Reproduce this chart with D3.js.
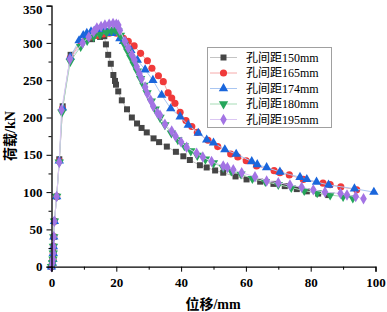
<!DOCTYPE html>
<html><head><meta charset="utf-8">
<script src="https://cdn.jsdelivr.net/npm/d3@7/dist/d3.min.js"></script>
<style>body{margin:0;background:#fff}svg{display:block}</style>
</head><body><svg id="c" width="387" height="312"></svg>
<script>
const seriesNames = ["孔间距150mm","孔间距165mm","孔间距174mm","孔间距180mm","孔间距195mm"];
const xTicks = [0,20,40,60,80,100];
const yTicks = [0,50,100,150,200,250,300,350];

const x150 = [0,0.3,0.45,0.55,0.6,0.7,0.9,1.6,2.4,3.45,5.9,9.1,12.5,15,16.3,16.8,17.5,18.3,19.1,19.6,19.9,20.6,21.7,23.3,24.8,26.4,27.8,29.4,31.5,33.2,35.6,38.4,40.7,42.7,45.8,47.9,50.5,53,56.8,60.2,64.4,68.5,72,75.7,78.8,82.3,85.4];
const y150 = [0,5,10,18,27,40,61,94,144,215,284,301,305,308,309,298,284,272,257,249,244,235,223,211,200,192,186,180,172,167,161,154,148,143,136,133,129,126,121,117,114,111,108,104,101,98,96];

const x165 = [0,0.3,0.45,0.55,0.6,0.7,0.9,1.6,2.4,3.4,5.8,9,11.9,14,16,17.8,20,22.2,23.7,25.5,27.5,29.6,31,33,34.5,36,37.1,38.1,39.7,41.5,43.3,45,48.3,51.3,55.3,57.5,60.1,63.3,68.7,70.5,73.4,77.7,83.8,86,89.3,94.2];
const y165 = [0,5,10,18,27,40,61,94,142,212,280,300,308,310,312,313,313,306,302,296,286,276,266,256,248,233,226,219,207,196,188,180,169.5,161,151,147,142,135,128.7,126,123,117,112,110,107,103];

const x174 = [0,0.3,0.45,0.55,0.6,0.7,0.9,1.6,2.4,3.4,5.8,8.5,9.8,10.9,12.2,13.4,14.4,15.5,16.5,17.6,18.6,19.6,21.1,22.2,24.5,26.5,28.9,31.3,34,36.8,39.7,42.2,45.3,47.9,50,53.5,57,61.8,63.5,66.4,70.5,76.7,78.8,81.8,85.5,93.5,99.5];
const y174 = [0,5,10,18,27,40,61,94,142,213,281,303,310,313,315,316,317,316,317,315,313,315,306,302,290,277,264,250,230,212,201,190,179,170,166,157,151,141,137,133,127,120,117,113.5,109.6,104.5,100];

const x180 = [0,0.3,0.45,0.55,0.6,0.7,0.9,1.6,2.4,3.2,5.8,9,11,13,15,17,18.5,19.6,20.5,21.3,22.5,23.5,24.5,25.5,26.5,27.5,28.5,29.5,30.8,32,33.5,35,37,39,41,43,45,47.5,50,53,55.5,58.5,62,66,70,74,78,82,86,90,93];
const y180 = [0,5,10,18,27,40,61,94,140,207,275,295,303,308,311,314,316,318,316,310,298,289,280,271,262,252,243,233,222,211,200,190,179,170,162,155,149,144,139,133,128,124,118,114,110,106,102,99,96,94,92];

const x195 = [0,0.3,0.45,0.55,0.6,0.7,0.9,1.6,2.4,3.1,5.7,9.6,11.5,13,14,15.3,16.5,17.8,19,20,20.6,21.1,22.7,23.7,24.8,25.6,26.3,27.1,27.8,28.9,29.6,30.6,31.4,32.7,33.5,35,37.1,38.3,40,41.7,44.8,46.7,49.4,53,54.3,56.1,58.7,62.8,66.4,70,73.6,77.2,80.8,84.4,89.2,91.2,93.9,96.3];
const y195 = [0,5,10,18,27,40,61,94,140,210,278,300,308,315,320,322,324,325,326,325,324,317,302,293,284,277,268,259,252,241,232,223,215,206,203,191,182,175,167,160,152,147,141,135,133,130,126,120.5,115,112.6,109.6,106.5,103,100,98,96,94,91];

const xs = [x150,x165,x174,x180,x195];
const ys = [y150,y165,y174,y180,y195];
const markerColors = ["#454545","#f03a3a","#1a66dc","#26a65b","#a374e4"];
const lineColors = ["#c4c4c4","#f6aaaa","#a9c6f2","#a6dcb6","#dbc6f3"];

const svg = d3.select("#c");
const W = 387, H = 312;
const m = {l:51.5, r:11.5, t:5.6, b:45.3};
const x = d3.scaleLinear().domain([0,100]).range([m.l, W-m.r]);
const y = d3.scaleLinear().domain([0,350]).range([H-m.b, m.t]);
const font = "'Liberation Serif','Noto Sans CJK SC',serif";

const symbols = [
  d3.symbol().type(d3.symbolSquare).size(36),
  d3.symbol().type(d3.symbolCircle).size(40),
  d3.symbol().type(d3.symbolTriangle).size(38),
  d3.symbol().type(d3.symbolTriangle).size(38),
  d3.symbol().type(d3.symbolDiamond).size(38)
];
const rot = [0,0,0,180,0];

const line = d3.line();
xs.forEach((xa,i)=>{
  const pts = xa.map((v,j)=>[x(v), y(ys[i][j])]);
  const g = svg.append("g");
  g.append("path").attr("d", line(pts)).attr("fill","none").attr("stroke", lineColors[i]).attr("stroke-width",1);
  g.selectAll("path.m").data(pts).enter().append("path").attr("class","m")
    .attr("d", symbols[i]())
    .attr("transform", d=>`translate(${d[0]},${d[1]}) rotate(${rot[i]})`)
    .attr("fill", markerColors[i]);
});

// axes
const xAxis = d3.axisBottom(x).tickValues(xTicks).tickSize(5).tickPadding(6).tickFormat(d3.format("d"));
const yAxis = d3.axisLeft(y).tickValues(yTicks).tickSize(5).tickPadding(4).tickFormat(d3.format("d"));
const gx = svg.append("g").attr("transform",`translate(0,${H-m.b})`).call(xAxis);
const gy = svg.append("g").attr("transform",`translate(${m.l},0)`).call(yAxis);
// minor ticks
const xMinor = d3.axisBottom(x).tickValues([10,30,50,70,90]).tickSize(3).tickFormat("");
const yMinor = d3.axisLeft(y).tickValues([25,75,125,175,225,275,325]).tickSize(3).tickFormat("");
svg.append("g").attr("transform",`translate(0,${H-m.b})`).call(xMinor).select(".domain").remove();
svg.append("g").attr("transform",`translate(${m.l},0)`).call(yMinor).select(".domain").remove();
svg.selectAll(".domain").attr("stroke","#000").attr("stroke-width",1.3);
svg.selectAll(".tick line").attr("stroke","#000").attr("stroke-width",1);
[gx,gy].forEach(g=>g.selectAll("text").attr("font-family",font).attr("font-weight","bold").attr("font-size",13).attr("fill","#000"));
gy.selectAll(".tick text").filter(d=>d===350).attr("dy","0.6em");

// axis titles
svg.append("text").attr("x", 213).attr("y", 309).attr("text-anchor","middle")
  .attr("font-family",font).attr("font-weight","bold").attr("font-size",14).text("位移/mm");
svg.append("text").attr("transform","translate(15,136) rotate(-90)").attr("text-anchor","middle")
  .attr("font-family",font).attr("font-weight","bold").attr("font-size",14).text("荷载/kN");

// legend
const lg = svg.append("g");
lg.append("rect").attr("x",207.5).attr("y",47.5).attr("width",124).attr("height",80)
  .attr("fill","#fff").attr("stroke","#a0a0a0").attr("stroke-width",1);
seriesNames.forEach((name,i)=>{
  const cy = 57.5 + i*15.5;
  lg.append("line").attr("x1",210).attr("x2",237).attr("y1",cy).attr("y2",cy).attr("stroke",lineColors[i]).attr("stroke-width",1);
  lg.append("path").attr("d",symbols[i]()).attr("transform",`translate(223.5,${cy}) rotate(${rot[i]})`).attr("fill",markerColors[i]);
  lg.append("text").attr("x",246).attr("y",cy+4.2).attr("font-family",font).attr("font-size",12).attr("fill","#000").text(name);
});
</script></body></html>
